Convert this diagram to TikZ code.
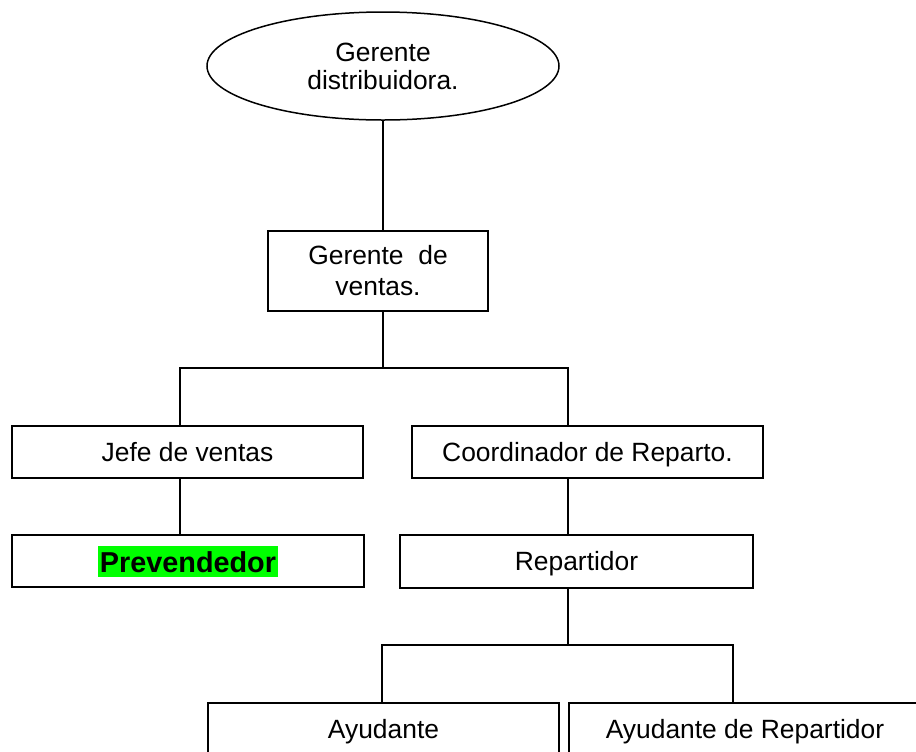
\documentclass[tikz,border=0pt]{standalone}
\usepackage{fontspec}
\setmainfont{Liberation Sans}
\usetikzlibrary{shapes.geometric}
\definecolor{hl}{RGB}{0,255,0}
\begin{document}
\begin{tikzpicture}[x=0.5pt,y=-0.5pt,
  box/.style={draw=black, line width=0.85pt, rectangle, inner sep=0pt,
    font=\fontsize{13.2}{15.5}\selectfont, align=center},
  onebox/.style={box, text height=11.5pt, text depth=2.1pt},
  conn/.style={draw=black, line width=0.7pt},
  txt/.style={inner sep=0pt, font=\fontsize{13.2}{15.5}\selectfont}
]
\clip (0,0) rectangle (916,751);
\fill[white] (0,0) rectangle (916,751);

\node[draw=black, ellipse, line width=0.75pt, minimum width=176pt, minimum height=54pt,
  inner sep=0pt, font=\fontsize{13.2}{14}\selectfont, align=center] (gd) at (383,66) {Gerente\\distribuidora.};

\node[box, minimum width=110pt, minimum height=40pt] (gv) at (378,271) {Gerente\ \ de\\ventas.};

\node[onebox, minimum width=175.5pt, minimum height=26pt] (jefe) at (187.5,452) {Jefe de ventas};
\node[onebox, minimum width=175.5pt, minimum height=26pt] (coord) at (587.5,452) {Coordinador de Reparto.};

\node[box, minimum width=176pt, minimum height=26pt, font=\bfseries\fontsize{14.4}{16}\selectfont] (prev) at (188,561)
  {\setlength{\fboxsep}{0pt}\colorbox{hl}{\hspace{1pt}\rule[-2pt]{0pt}{15.5pt}Prevendedor\hspace{1pt}}};
\node[onebox, minimum width=176.5pt, minimum height=26.5pt] (rep) at (576.5,561.5) {Repartidor};

\node[box, minimum width=175.5pt, minimum height=40pt, anchor=north] (ayu) at (383.5,702) {};
\node[box, minimum width=176pt, minimum height=40pt, anchor=north] (ayur) at (745,702) {};
\node[txt, anchor=base] (ayut) at (383.5,738) {Ayudante};
\node[txt, anchor=base] (ayurt) at (745,738) {Ayudante de Repartidor};

\coordinate (b1L) at (180,368);
\coordinate (b1R) at (568,368);
\coordinate (b2L) at (382,645);
\coordinate (b2R) at (733,645);

\draw[conn] (gd.south) -- (gd.south |- gv.north);
\draw[conn] (gd.south |- gv.south) -- (gd.south |- b1L);
\draw[conn] (b1L |- jefe.north) -- (b1L) -- (b1R) -- (b1R |- coord.north);
\draw[conn] (b1L |- jefe.south) -- (b1L |- prev.north);
\draw[conn] (b1R |- coord.south) -- (b1R |- rep.north);
\draw[conn] (b1R |- rep.south) -- (b1R |- b2L);
\draw[conn] (b2L |- ayu.north) -- (b2L) -- (b2R) -- (b2R |- ayur.north);
\end{tikzpicture}
\end{document}
